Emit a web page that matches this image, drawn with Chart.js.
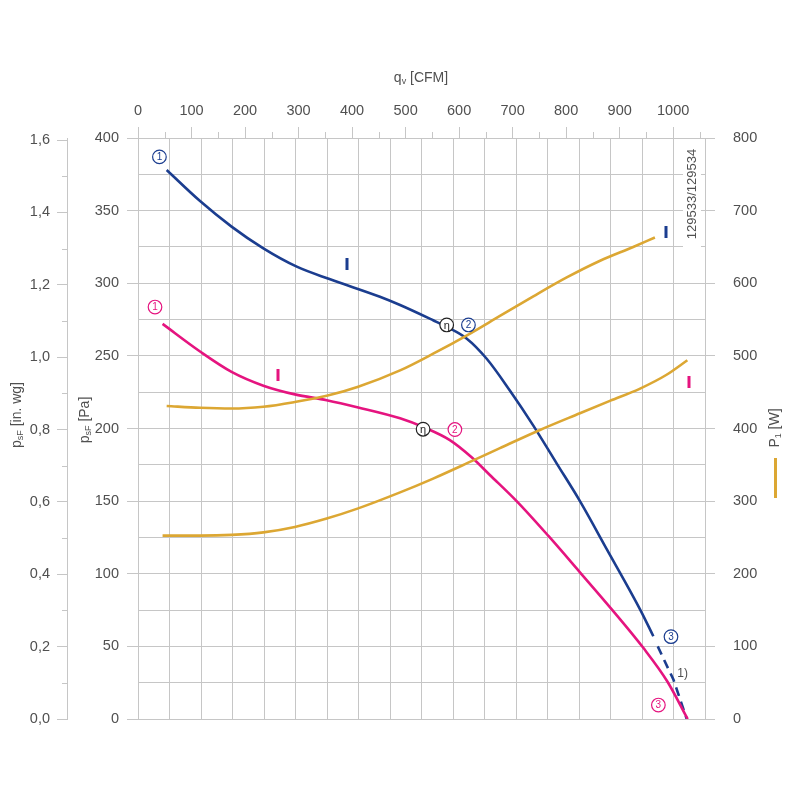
<!DOCTYPE html>
<html>
<head>
<meta charset="utf-8">
<script src="https://cdn.jsdelivr.net/npm/chart.js@4.4.0/dist/chart.umd.min.js"></script>
<style>
  html, body { margin: 0; padding: 0; background: #fff; }
  canvas { display: block; }
</style>
</head>
<body>
<canvas id="chart" width="800" height="800"></canvas>
<script>
// flow on the hidden base scale is m3/h, pressure in Pa, power in W
const CFM_PER_M3H = 1 / 1.69901;
const PA_PER_INWG = 249.089;

const blueFlow = [91, 197, 297, 398, 504, 610, 768, 832, 937, 980, 1043, 1107, 1181, 1255, 1329, 1403, 1488, 1595, 1636];
const bluePressure = [378, 356.6, 339, 324, 311.4, 302.7, 290.7, 285, 274.5, 270, 262, 248, 226, 202, 176, 150, 117, 75, 57];
const blueDashFlow = [1650, 1700, 1742];
const blueDashPressure = [50, 27, 0];

const pinkFlow = [78, 197, 297, 398, 498, 599, 699, 832, 911, 990, 1060, 1117, 1202, 1303, 1403, 1504, 1604, 1680, 1745];
const pinkPressure = [272, 253, 239, 229.5, 223.5, 219.5, 214.5, 207, 200.5, 192, 180, 168, 150, 126, 101, 75.5, 49, 26, 0];

const powerIFlow = [91, 197, 297, 398, 498, 599, 699, 832, 937, 1043, 1149, 1255, 1361, 1467, 1572, 1641];
const powerI = [431, 428.5, 427.5, 430, 436.5, 445, 457.5, 480, 503, 528, 555, 582, 608, 631, 650, 663];
const powerIIFlow = [78, 197, 297, 398, 498, 599, 699, 832, 937, 1059, 1149, 1276, 1403, 1498, 1594, 1678, 1744];
const powerII = [252.5, 252.5, 253.5, 257, 264.5, 276, 290, 312, 331, 355, 373, 398, 421, 438, 455, 474, 494];

const BLUE = '#1b3d8f';
const PINK = '#e5147f';
const GOLD = '#dca733';
const GRID = '#c6c6c6';
const TEXT = '#505050';
const FONT = '"Liberation Sans", Arial, sans-serif';

// curve annotations, in flow (m3/h) / pressure (Pa)
const circleLabels = [
  { t: '1', x: 68, y: 387, c: BLUE },
  { t: '2', x: 1049, y: 271.3, c: BLUE },
  { t: '3', x: 1692, y: 56.7, c: BLUE },
  { t: '1', x: 54, y: 283.6, c: PINK },
  { t: '2', x: 1006, y: 199.3, c: PINK },
  { t: '3', x: 1652, y: 9.6, c: PINK },
  { t: 'η', x: 980, y: 271.3, c: '#222' },
  { t: 'η', x: 905, y: 199.5, c: '#222' }
];
const speedMarks = [
  { x: 662, y: 313, c: BLUE },
  { x: 1675, y: 335, c: BLUE },
  { x: 443, y: 237, c: PINK },
  { x: 1749, y: 232, c: PINK }
];

const pts = (xs, ys) => xs.map((x, i) => ({ x: x, y: ys[i] }));

function drawRich(ctx, parts, cx, cy, angle) {
  ctx.save();
  ctx.translate(cx, cy);
  ctx.rotate(angle);
  let total = 0;
  parts.forEach(p => {
    ctx.font = p.size + 'px ' + FONT;
    p.w = ctx.measureText(p.t).width;
    total += p.w;
  });
  let x = -total / 2;
  ctx.textBaseline = 'middle';
  ctx.textAlign = 'left';
  ctx.fillStyle = TEXT;
  parts.forEach(p => {
    ctx.font = p.size + 'px ' + FONT;
    ctx.fillText(p.t, x, p.dy || 0);
    x += p.w;
  });
  ctx.restore();
}

const decorations = {
  id: 'decorations',
  afterDatasetsDraw(chart) {
    const ctx = chart.ctx;
    const sx = chart.scales.x, sy = chart.scales.y;
    const top = chart.scales.xcfm, inwg = chart.scales.yin;
    const area = chart.chartArea;

    // minor ticks on the CFM and in. wg axes
    ctx.save();
    ctx.strokeStyle = GRID;
    ctx.lineWidth = 1;
    for (let v = 50; v < 1059; v += 100) {
      const px = Math.round(top.getPixelForValue(v)) + 0.5;
      ctx.beginPath(); ctx.moveTo(px, area.top - 6); ctx.lineTo(px, area.top); ctx.stroke();
    }
    for (let v = 0.1; v < 1.6; v += 0.2) {
      const py = Math.round(inwg.getPixelForValue(v)) + 0.5;
      ctx.beginPath(); ctx.moveTo(inwg.right - 5, py); ctx.lineTo(inwg.right, py); ctx.stroke();
    }
    ctx.restore();

    // circled labels
    circleLabels.forEach(l => {
      const px = sx.getPixelForValue(l.x), py = sy.getPixelForValue(l.y);
      ctx.save();
      ctx.beginPath();
      ctx.arc(px, py, 6.8, 0, Math.PI * 2);
      ctx.fillStyle = '#fff';
      ctx.fill();
      ctx.lineWidth = 1.2;
      ctx.strokeStyle = l.c;
      ctx.stroke();
      ctx.fillStyle = l.c;
      ctx.font = (l.t === 'η' ? 11 : 10) + 'px ' + FONT;
      ctx.textAlign = 'center';
      ctx.textBaseline = 'middle';
      ctx.fillText(l.t, px, py + (l.t === 'η' ? 1 : 0.5));
      ctx.restore();
    });

    // speed marks "I"
    speedMarks.forEach(m => {
      const px = sx.getPixelForValue(m.x), py = sy.getPixelForValue(m.y);
      ctx.save();
      ctx.fillStyle = m.c;
      ctx.fillRect(Math.round(px) - 1.5, Math.round(py) - 6, 3, 12);
      ctx.restore();
    });

    // footnote 1)
    ctx.save();
    ctx.fillStyle = TEXT;
    ctx.font = '12px ' + FONT;
    ctx.textAlign = 'center';
    ctx.textBaseline = 'middle';
    ctx.fillText('1)', sx.getPixelForValue(1729), sy.getPixelForValue(31.5));
    ctx.restore();

    // type number box
    ctx.save();
    ctx.fillStyle = '#fff';
    ctx.fillRect(683, area.top + 1, 18, 111);
    ctx.restore();
    drawRich(ctx, [{ t: '129533/129534', size: 13 }], 692, 194, -Math.PI / 2);

    // axis titles
    drawRich(ctx, [{ t: 'q', size: 14 }, { t: 'v', size: 9, dy: 4 }, { t: ' [CFM]', size: 14 }], 421, 78, 0);
    drawRich(ctx, [{ t: 'p', size: 14 }, { t: 'sF', size: 9, dy: 4 }, { t: ' [in. wg]', size: 14 }], 17, 415, -Math.PI / 2);
    drawRich(ctx, [{ t: 'p', size: 14 }, { t: 'sF', size: 9, dy: 4 }, { t: ' [Pa]', size: 14 }], 85, 420, -Math.PI / 2);
    drawRich(ctx, [{ t: 'P', size: 14 }, { t: '1', size: 9, dy: 4 }, { t: ' [W]', size: 14 }], 775, 428, -Math.PI / 2);
    ctx.save();
    ctx.fillStyle = GOLD;
    ctx.fillRect(774, 458, 3, 40);
    ctx.restore();
  }
};

const tickFont = { family: FONT, size: 14.5 };

new Chart(document.getElementById('chart'), {
  type: 'line',
  data: {
    datasets: [
      { data: pts(powerIFlow, powerI), borderColor: GOLD, yAxisID: 'yw' },
      { data: pts(powerIIFlow, powerII), borderColor: GOLD, yAxisID: 'yw' },
      { data: pts(pinkFlow, pinkPressure), borderColor: PINK, yAxisID: 'y' },
      { data: pts(blueFlow, bluePressure), borderColor: BLUE, yAxisID: 'y' },
      { data: pts(blueDashFlow, blueDashPressure), borderColor: BLUE, yAxisID: 'y', borderDash: [9, 6], cubicInterpolationMode: 'default', tension: 0 }
    ]
  },
  options: {
    responsive: false,
    animation: false,
    devicePixelRatio: 1,
    layout: { padding: { left: 0, right: 0, top: 95, bottom: 81 } },
    elements: {
      line: { borderWidth: 2.6, cubicInterpolationMode: 'monotone', fill: false, borderCapStyle: 'butt' },
      point: { radius: 0, hoverRadius: 0 }
    },
    plugins: { legend: { display: false }, tooltip: { enabled: false } },
    scales: {
      x: {
        type: 'linear', position: 'bottom', min: 0, max: 1800,
        ticks: { stepSize: 100, display: false, autoSkip: false },
        grid: { color: GRID, drawTicks: false },
        border: { display: false },
        afterFit(s) { s.height = 0; }
      },
      xcfm: {
        type: 'linear', position: 'top', min: 0, max: 1800 * CFM_PER_M3H,
        ticks: {
          stepSize: 100, includeBounds: false, autoSkip: false, maxRotation: 0, color: TEXT, font: tickFont, padding: 7,
          callback: v => String(v)
        },
        grid: { drawOnChartArea: false, tickLength: 11, tickColor: GRID, color: GRID },
        border: { color: GRID },
        afterFit(s) { s.height = 43; }
      },
      y: {
        type: 'linear', position: 'left', min: 0, max: 400, weight: 0,
        ticks: {
          stepSize: 25, autoSkip: false, color: TEXT, font: tickFont, padding: 8,
          callback: v => (v % 50 === 0 ? String(v) : '')
        },
        grid: {
          color: GRID, tickLength: 11,
          tickColor: c => (c.tick && c.tick.value % 50 === 0 ? GRID : 'rgba(0,0,0,0)')
        },
        border: { color: GRID },
        afterFit(s) { s.width = 71; }
      },
      yin: {
        type: 'linear', position: 'left', min: 0, max: 400 / PA_PER_INWG, weight: 1,
        ticks: {
          stepSize: 0.1, includeBounds: false, autoSkip: false, color: TEXT, font: tickFont, padding: 7,
          callback: v => (Math.round(v * 10) % 2 === 0 ? v.toFixed(1).replace('.', ',') : '')
        },
        grid: {
          drawOnChartArea: false, tickLength: 10,
          tickColor: c => (c.tick && Math.round(c.tick.value * 10) % 2 === 0 ? GRID : 'rgba(0,0,0,0)')
        },
        border: { color: GRID },
        afterFit(s) { s.width = 67; }
      },
      yw: {
        type: 'linear', position: 'right', min: 0, max: 800,
        ticks: { stepSize: 100, autoSkip: false, color: TEXT, font: tickFont, padding: 18 },
        grid: { drawOnChartArea: false, tickLength: 10, tickColor: GRID },
        border: { display: false },
        afterFit(s) { s.width = 95; }
      }
    }
  },
  plugins: [decorations]
});
</script>
</body>
</html>
